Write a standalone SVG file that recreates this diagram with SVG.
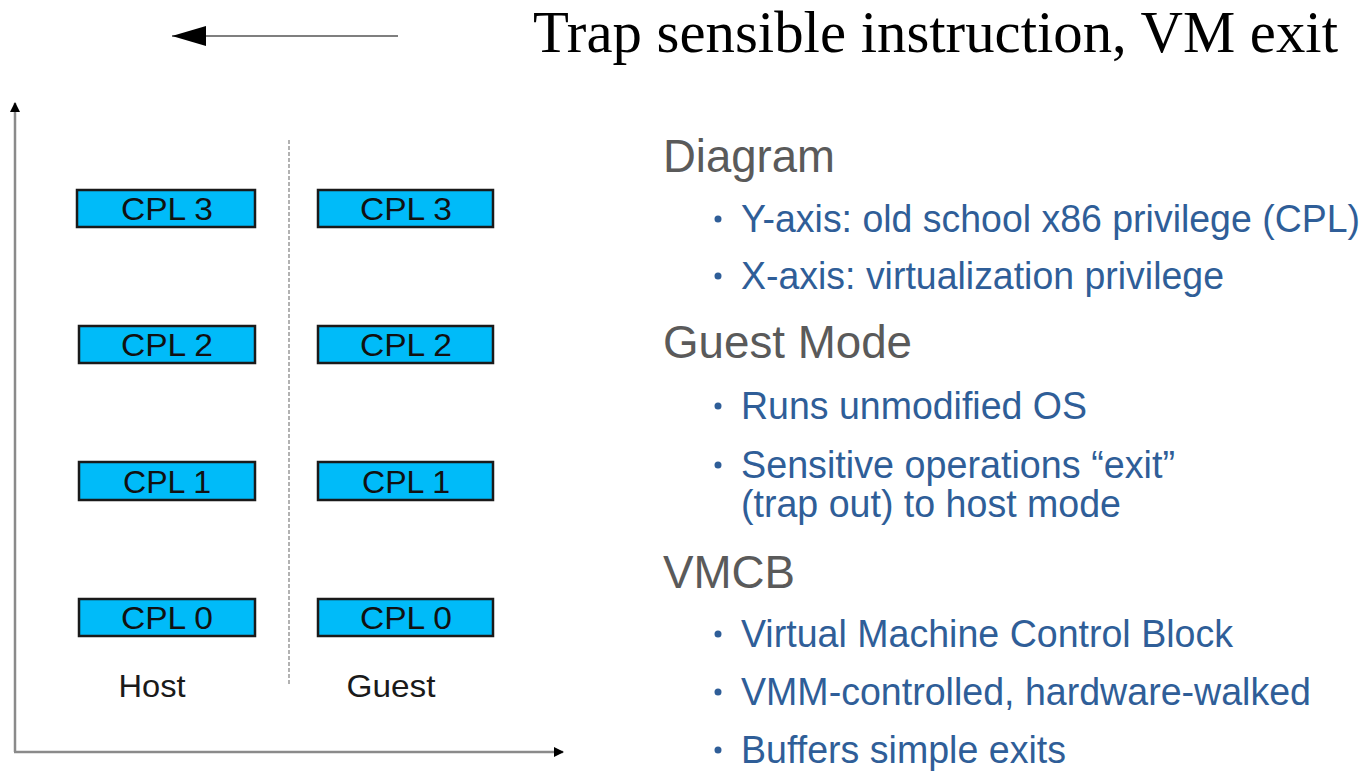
<svg xmlns="http://www.w3.org/2000/svg" width="1372" height="773" viewBox="0 0 1372 773">
<defs>
<style>
.box{fill:#00bbf9;stroke:#1a1a1a;stroke-width:2.5}
.cpl{font-family:"Liberation Sans",Arial,sans-serif;font-size:32px;fill:#111;text-anchor:middle}
.lbl{font-family:"Liberation Sans",Arial,sans-serif;font-size:32px;fill:#1a1a1a;text-anchor:middle}
.axis{stroke:#8a8a8a;stroke-width:2.5;fill:none}
.head{font-family:"Liberation Sans",Arial,sans-serif;font-size:46px;fill:#5a5a5a}
.item{font-family:"Liberation Sans",Arial,sans-serif;font-size:38px;fill:#2f5e98}
.dot{fill:#2f5e98}
</style>
<marker id="ah" viewBox="0 0 10 10" refX="9" refY="5" markerWidth="10" markerHeight="10" markerUnits="userSpaceOnUse" orient="auto">
<path d="M0,0 L10,5 L0,10 z" fill="#000"/>
</marker>
<marker id="ahBig" viewBox="0 0 34 20" refX="34" refY="10" markerWidth="34" markerHeight="20" markerUnits="userSpaceOnUse" orient="auto">
<path d="M0,0 L34,10 L0,20 z" fill="#000"/>
</marker>
</defs>
<g id="connectors">
<line x1="398" y1="36" x2="172" y2="36" stroke="#555" stroke-width="1.5" marker-end="url(#ahBig)"/>
<line class="axis" x1="15" y1="752" x2="15" y2="103" marker-end="url(#ah)"/>
<line class="axis" x1="14" y1="752" x2="563" y2="752" marker-end="url(#ah)"/>
<line x1="289" y1="140" x2="289" y2="686" stroke="#999" stroke-width="1.5" stroke-dasharray="4,2"/>
</g>
<g id="title"><text x="533" y="52" font-family="'Liberation Serif','Times New Roman',serif" font-size="59" fill="#000" textLength="805" lengthAdjust="spacingAndGlyphs">Trap sensible instruction, VM exit</text></g>
<g id="host-cpl3"><rect class="box" x="77" y="190" width="178" height="37"/><text class="cpl" x="167" y="220" textLength="92" lengthAdjust="spacingAndGlyphs">CPL 3</text></g>
<g id="host-cpl2"><rect class="box" x="79" y="326" width="176" height="37"/><text class="cpl" x="167" y="356" textLength="92" lengthAdjust="spacingAndGlyphs">CPL 2</text></g>
<g id="host-cpl1"><rect class="box" x="79" y="462" width="176" height="38"/><text class="cpl" x="167" y="493" textLength="88" lengthAdjust="spacingAndGlyphs">CPL 1</text></g>
<g id="host-cpl0"><rect class="box" x="79" y="599" width="176" height="37"/><text class="cpl" x="167" y="629" textLength="92" lengthAdjust="spacingAndGlyphs">CPL 0</text></g>
<g id="guest-cpl3"><rect class="box" x="318" y="190" width="175" height="37"/><text class="cpl" x="406" y="220" textLength="92" lengthAdjust="spacingAndGlyphs">CPL 3</text></g>
<g id="guest-cpl2"><rect class="box" x="318" y="326" width="175" height="37"/><text class="cpl" x="406" y="356" textLength="92" lengthAdjust="spacingAndGlyphs">CPL 2</text></g>
<g id="guest-cpl1"><rect class="box" x="318" y="462" width="175" height="38"/><text class="cpl" x="406" y="493" textLength="88" lengthAdjust="spacingAndGlyphs">CPL 1</text></g>
<g id="guest-cpl0"><rect class="box" x="318" y="599" width="175" height="37"/><text class="cpl" x="406" y="629" textLength="92" lengthAdjust="spacingAndGlyphs">CPL 0</text></g>
<g id="host-label"><text class="lbl" x="152" y="697" textLength="67" lengthAdjust="spacingAndGlyphs">Host</text></g>
<g id="guest-label"><text class="lbl" x="391" y="697" textLength="89" lengthAdjust="spacingAndGlyphs">Guest</text></g>
<g id="notes">
<text class="head" x="663" y="172" textLength="172" lengthAdjust="spacingAndGlyphs">Diagram</text>
<circle class="dot" cx="718" cy="219" r="3.5"/>
<text class="item" x="741" y="232" textLength="619" lengthAdjust="spacingAndGlyphs">Y-axis: old school x86 privilege (CPL)</text>
<circle class="dot" cx="718" cy="276" r="3.5"/>
<text class="item" x="741" y="289" textLength="483" lengthAdjust="spacingAndGlyphs">X-axis: virtualization privilege</text>
<text class="head" x="663" y="358" textLength="249" lengthAdjust="spacingAndGlyphs">Guest Mode</text>
<circle class="dot" cx="718" cy="406" r="3.5"/>
<text class="item" x="741" y="419" textLength="346" lengthAdjust="spacingAndGlyphs">Runs unmodified OS</text>
<circle class="dot" cx="718" cy="465" r="3.5"/>
<text class="item" x="741" y="478" textLength="434" lengthAdjust="spacingAndGlyphs">Sensitive operations “exit”</text>
<text class="item" x="741" y="517" textLength="380" lengthAdjust="spacingAndGlyphs">(trap out) to host mode</text>
<text class="head" x="663" y="588" textLength="132" lengthAdjust="spacingAndGlyphs">VMCB</text>
<circle class="dot" cx="718" cy="634" r="3.5"/>
<text class="item" x="741" y="647" textLength="492" lengthAdjust="spacingAndGlyphs">Virtual Machine Control Block</text>
<circle class="dot" cx="718" cy="692" r="3.5"/>
<text class="item" x="741" y="705" textLength="570" lengthAdjust="spacingAndGlyphs">VMM-controlled, hardware-walked</text>
<circle class="dot" cx="718" cy="750" r="3.5"/>
<text class="item" x="741" y="763" textLength="325" lengthAdjust="spacingAndGlyphs">Buffers simple exits</text>
</g>
</svg>
